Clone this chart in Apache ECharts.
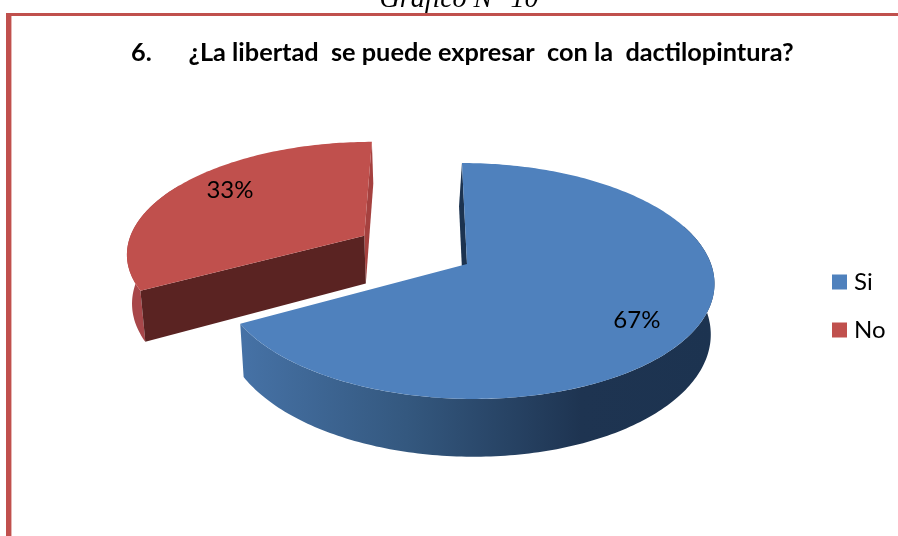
<!DOCTYPE html>
<html><head><meta charset="utf-8">
<style>html,body{margin:0;padding:0;background:#fff}#c{width:898px;height:536px}</style>
<script src="https://cdn.jsdelivr.net/npm/echarts@6/dist/echarts.min.js"></script>
</head><body><div id="c"></div>
<script>
const categories = ['Si', 'No'];
const values = [67, 33];
const explode = [0, 0.5];
const radii = [1, 0.993];
const chartTitle = '6.      ¿La libertad  se puede expresar  con la  dactilopintura?';
const pageCaption = 'Gráfico N° 10';

const topColors = ['#4f81bd', '#c0504d'];
const cutColors = ['#1c3350', '#5a2322'];
const innerColors = ['#1c3350', '#a5413f'];
const innerShift = [-3, 0];
const labelAt = [[0.52, 0.785], [0.545, 0.77]];
const P = {k:.144, A:244, B:115.5, cx:467, cy:264, shear:.05, depth:49.5, wallScale:.985};

const total = values.reduce((a,b)=>a+b,0);
const starts = values.map((v,i)=>values.slice(0,i).reduce((a,b)=>a+b,0)/total*360);

function project(deg, r, ex, ey, wall){
  const t = deg*Math.PI/180;
  const x = ex + r*Math.sin(t), y = ey + r*Math.cos(t);
  const w = 1 + P.k*y;
  const sx = P.A*x/w, sy = -P.B*y/w;
  let px = P.cx + sx + P.shear*sy, py = P.cy + sy;
  if (wall){ px = P.cx + (px-P.cx)*P.wallScale; py += P.depth/w; }
  return [px, py];
}
function arc(a, b, r, ex, ey, wall){
  const pts = [], n = Math.max(2, Math.ceil(Math.abs(b-a)));
  for (let i=0;i<=n;i++) pts.push(project(a+(b-a)*i/n, r, ex, ey, wall));
  return pts;
}
function wallGradient(i){
  return i===0
    ? new echarts.graphic.LinearGradient(0,0,1,0,[{offset:0,color:'#4672a6'},{offset:.35,color:'#34587f'},{offset:.72,color:'#1e3451'},{offset:1,color:'#1c3350'}])
    : '#a8474a';
}
function renderSlice(params, api){
  const i = params.seriesIndex;
  const share = api.value(0)/total*360;
  const a0 = starts[i], a1 = a0 + share;
  const mid = (a0+a1)/2*Math.PI/180;
  const ex = explode[i]*Math.sin(mid), ey = explode[i]*Math.cos(mid);
  const r = radii[i];
  const apexT = project(0,0,ex,ey,false), apexB = project(0,0,ex,ey,true);
  const poly = (pts,fill)=>({type:'polygon',shape:{points:pts},style:{fill}});
  const children = [];
  const edgeDeg = i===0 ? a0 : a1;
  const edgeB = project(edgeDeg,r,ex,ey,true);
  children.push(poly([project(edgeDeg,r,ex,ey,false),[edgeB[0]+innerShift[i],edgeB[1]],[apexB[0]+innerShift[i],apexB[1]],apexT],innerColors[i]));
  const wa0 = i===0 ? Math.max(a0,70) : a0, wa1 = i===0 ? a1 : Math.min(a1,300);
  children.push(poly(arc(wa0,wa1,r,ex,ey,false).concat(arc(wa1,wa0,r,ex,ey,true)),wallGradient(i)));
  if (i===1) children.push(poly([apexT,project(a0,r,ex,ey,false),project(a0,r,ex,ey,true),apexB],cutColors[i]));
  children.push(poly([apexT].concat(arc(a0,a1,r,ex,ey,false)),topColors[i]));
  const lab = project(a0+share*labelAt[i][0],labelAt[i][1],ex,ey,false);
  children.push({type:'text',style:{x:lab[0],y:lab[1],text:Math.round(api.value(0)/total*100)+'%',
    fill:'#000',fontFamily:'Lato',fontSize:24,align:'center',verticalAlign:'middle'}});
  return {type:'group',children};
}
const chart = echarts.init(document.getElementById('c'),null,{renderer:'canvas'});
chart.setOption({
  animation:false,
  backgroundColor:'#fff',
  title:{text:chartTitle,left:131,top:40,padding:0,textStyle:{fontFamily:'Lato',fontWeight:'bold',fontSize:25.3,color:'#000'}},
  legend:{orient:'vertical',left:832,top:270,itemWidth:15,itemHeight:15,itemGap:24,icon:'rect',padding:0,
    textStyle:{fontFamily:'Lato',fontSize:24,color:'#000',padding:[0,0,0,2]},data:categories},
  graphic:[
    {type:'rect',shape:{x:6,y:13,width:892,height:3},style:{fill:'#c0504d'},silent:true},
    {type:'rect',shape:{x:6,y:13,width:5,height:523},style:{fill:'#c0504d'},silent:true},
    {type:'rect',shape:{x:11,y:16,width:1,height:520},style:{fill:'#e6b5b3'},silent:true},
    {type:'text',style:{x:459,y:0,text:pageCaption,fill:'#000',fontFamily:'Liberation Serif',fontStyle:'italic',fontSize:28,align:'center',verticalAlign:'middle'},silent:true}
  ],
  series:categories.map((name,i)=>({type:'custom',name,coordinateSystem:'none',renderItem:renderSlice,
    itemStyle:{color:topColors[i]},data:[values[i]],silent:true}))
});
</script></body></html>
